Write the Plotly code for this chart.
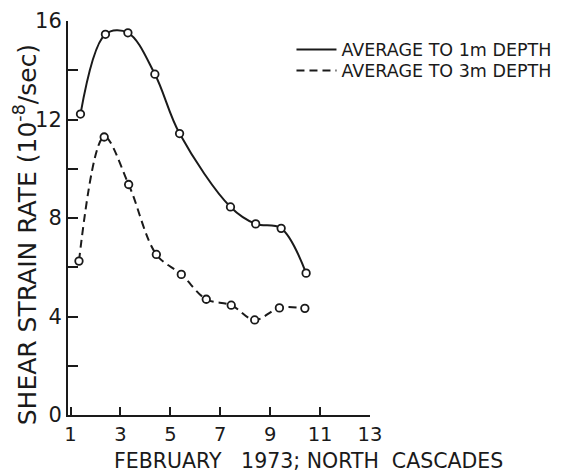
import plotly.graph_objects as go

# Data
day_1m = [1.40, 2.40, 3.30, 4.38, 5.37, 7.41, 8.42, 9.44, 10.44]
rate_1m = [12.22, 15.46, 15.52, 13.84, 11.43, 8.45, 7.76, 7.58, 5.76]
day_3m = [1.34, 2.35, 3.33, 4.44, 5.44, 6.44, 7.44, 8.38, 9.37, 10.39]
rate_3m = [6.25, 11.29, 9.36, 6.52, 5.71, 4.70, 4.46, 3.86, 4.35, 4.33]

x_ticks = [1, 3, 5, 7, 9, 11, 13]
y_ticks = [0, 4, 8, 12, 16]
y_minor_ticks = [2, 6, 10, 14]

x_title = "FEBRUARY&nbsp;&nbsp;&nbsp;1973;&nbsp;NORTH&nbsp;&nbsp;CASCADES"
y_title = "SHEAR STRAIN RATE (10<sup>-8</sup>/sec)"

INK = "#1a1a1a"
FONT = "DejaVu Sans"

fig = go.Figure()
fig.add_trace(go.Scatter(
    x=day_1m, y=rate_1m, mode="lines", name="AVERAGE TO 1m DEPTH",
    line=dict(color=INK, width=2, shape="spline", smoothing=1.0),
    legend="legend",
))
fig.add_trace(go.Scatter(
    x=day_3m, y=rate_3m, mode="lines", name="AVERAGE TO 3m DEPTH",
    line=dict(color=INK, width=2, shape="spline", smoothing=1.0, dash="8px,5px"),
    legend="legend2",
))
for xs, ys in [(day_1m, rate_1m), (day_3m, rate_3m)]:
    fig.add_trace(go.Scatter(
        x=xs, y=ys, mode="markers", showlegend=False,
        marker=dict(symbol="circle", size=7.5, color="white",
                    line=dict(color=INK, width=1.8)),
    ))

legend_common = dict(
    xanchor="left", yanchor="top",
    font=dict(size=17.5, family=FONT, color=INK),
    bgcolor="rgba(0,0,0,0)", itemwidth=40,
)

# page body adds an 8px offset; figure is sized to compensate
fig.update_layout(
    width=562, height=466,
    margin=dict(l=60, r=200, t=13, b=59, autoexpand=False),
    paper_bgcolor="white", plot_bgcolor="white",
    font=dict(family=FONT, color=INK),
    legend=dict(x=0.74, y=0.973, **legend_common),
    legend2=dict(x=0.74, y=0.920, **legend_common),
    xaxis=dict(
        range=[0.9, 13], tickvals=x_ticks, ticktext=[str(v) for v in x_ticks],
        ticks="inside", ticklen=8, tickwidth=2, tickcolor=INK,
        showline=True, linecolor=INK, linewidth=2, showgrid=False, zeroline=False,
        tickfont=dict(size=19.5, family=FONT, color=INK), automargin=False,
        ticklabelstandoff=1,
    ),
    yaxis=dict(
        range=[0, 16], tickvals=y_ticks, ticktext=[str(v) for v in y_ticks],
        ticks="inside", ticklen=10, tickwidth=2, tickcolor=INK,
        minor=dict(tickvals=y_minor_ticks, ticks="inside", ticklen=10,
                   tickwidth=2, tickcolor=INK, showgrid=False),
        showline=True, linecolor=INK, linewidth=2, showgrid=False, zeroline=False,
        tickfont=dict(size=21, family=FONT, color=INK), automargin=False,
    ),
    annotations=[
        dict(text=x_title, xref="paper", yref="paper", x=0.798, y=-0.117,
             xanchor="center", yanchor="middle", showarrow=False,
             font=dict(size=20.5, family=FONT, color=INK)),
        dict(text=y_title, xref="paper", yref="paper", x=-0.138, y=0.457,
             xanchor="center", yanchor="middle", showarrow=False, textangle=-90,
             font=dict(size=25, family=FONT, color=INK)),
    ],
)

fig.write_html("out.html")
